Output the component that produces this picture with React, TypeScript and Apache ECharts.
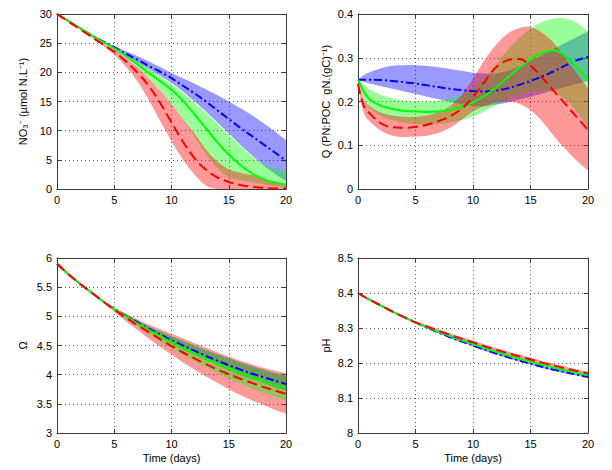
import React, { useEffect, useRef } from 'react';
import * as echarts from 'echarts';

// ---------------- data ----------------
const days = [0, 0.5, 1, 2, 3, 4, 5, 6, 7, 8, 9, 10, 11, 12, 13, 14, 15, 16, 17, 18, 19, 20];

const xTicks = [0, 5, 10, 15, 20];

// NO3
const no3BlueMean = [30, 29.4, 28.8, 27.6, 26.4, 25.3, 24.3, 23.2, 22.2, 21.1, 20.1, 19.0, 17.7, 16.4, 15.0, 13.5, 12.0, 10.5, 9.1, 7.7, 6.3, 4.8];
const no3BlueHi = [30, 29.4, 28.8, 27.6, 26.4, 25.4, 24.5, 23.6, 22.8, 21.9, 20.9, 19.9, 19.0, 18.1, 17.1, 16.1, 15.0, 13.9, 12.7, 11.3, 9.9, 8.4];
const no3BlueLo = [30, 29.4, 28.8, 27.6, 26.4, 25.2, 24.1, 22.9, 21.7, 20.6, 19.4, 18.2, 16.7, 15.0, 13.3, 11.4, 9.5, 7.6, 5.8, 4.1, 2.6, 1.4];
const no3GreenMean = [30, 29.4, 28.8, 27.6, 26.4, 25.2, 24.1, 22.8, 21.4, 19.9, 18.5, 17.0, 15.1, 12.8, 10.4, 8.0, 5.9, 4.1, 2.7, 1.7, 1.1, 0.7];
const no3GreenHi = [30, 29.4, 28.8, 27.6, 26.4, 25.2, 24.2, 23.0, 21.8, 20.6, 19.3, 18.0, 16.5, 14.8, 13.1, 11.2, 9.3, 7.4, 5.6, 4.3, 3.5, 3.0];
const no3GreenLo = [30, 29.4, 28.8, 27.6, 26.4, 25.2, 24.0, 22.6, 20.9, 19.0, 16.9, 14.6, 12.0, 9.0, 6.0, 3.6, 2.0, 1.5, 1.2, 0.8, 0.5, 0.3];
const no3RedMean = [30, 29.35, 28.7, 27.4, 26.1, 24.8, 23.5, 21.9, 20.0, 17.7, 14.8, 11.4, 8.1, 5.3, 3.3, 2.0, 1.2, 0.7, 0.4, 0.2, 0.1, 0.1];
const no3RedHi = [30, 29.4, 28.8, 27.5, 26.3, 25.0, 23.9, 22.5, 20.9, 19.0, 16.9, 14.6, 12.0, 9.5, 6.8, 4.7, 3.4, 2.8, 2.4, 1.8, 1.3, 0.9];
const no3RedLo = [30, 29.3, 28.6, 27.3, 26.0, 24.6, 23.0, 21.0, 18.5, 15.3, 11.7, 8.2, 5.0, 2.5, 0.6, 0, 0, 0, 0, 0, 0, 0];

// Q (PN:POC)
const qBlueMean = [0.25, 0.25, 0.25, 0.249, 0.247, 0.244, 0.241, 0.237, 0.233, 0.229, 0.226, 0.224, 0.223, 0.225, 0.23, 0.238, 0.247, 0.257, 0.269, 0.282, 0.294, 0.302];
const qBlueHi = [0.25, 0.26, 0.267, 0.276, 0.282, 0.283, 0.283, 0.281, 0.278, 0.274, 0.27, 0.266, 0.264, 0.264, 0.27, 0.28, 0.293, 0.306, 0.32, 0.334, 0.347, 0.36];
const qBlueLo = [0.25, 0.245, 0.241, 0.235, 0.229, 0.223, 0.217, 0.211, 0.205, 0.199, 0.194, 0.19, 0.189, 0.193, 0.198, 0.204, 0.211, 0.218, 0.226, 0.233, 0.24, 0.247];
const qGreenMean = [0.25, 0.222, 0.205, 0.19, 0.183, 0.179, 0.177, 0.176, 0.177, 0.181, 0.188, 0.198, 0.213, 0.232, 0.255, 0.277, 0.297, 0.311, 0.317, 0.304, 0.278, 0.25];
const qGreenHi = [0.25, 0.238, 0.228, 0.215, 0.207, 0.202, 0.2, 0.2, 0.202, 0.207, 0.215, 0.228, 0.255, 0.285, 0.318, 0.345, 0.367, 0.382, 0.389, 0.39, 0.38, 0.36];
const qGreenLo = [0.25, 0.205, 0.185, 0.167, 0.157, 0.151, 0.148, 0.147, 0.148, 0.152, 0.158, 0.166, 0.178, 0.192, 0.205, 0.215, 0.222, 0.225, 0.22, 0.205, 0.178, 0.14];
const qRedMean = [0.24, 0.19, 0.173, 0.15, 0.141, 0.14, 0.142, 0.147, 0.155, 0.166, 0.183, 0.21, 0.245, 0.278, 0.294, 0.297, 0.282, 0.255, 0.225, 0.195, 0.165, 0.135];
const qRedHi = [0.245, 0.205, 0.19, 0.175, 0.168, 0.165, 0.165, 0.168, 0.176, 0.19, 0.215, 0.252, 0.295, 0.33, 0.355, 0.368, 0.37, 0.358, 0.335, 0.3, 0.265, 0.23];
const qRedLo = [0.235, 0.175, 0.155, 0.133, 0.122, 0.119, 0.12, 0.122, 0.128, 0.14, 0.158, 0.178, 0.19, 0.198, 0.2, 0.195, 0.18, 0.155, 0.122, 0.092, 0.065, 0.042];

// Omega
const omBlueMean = [5.9, 5.81, 5.72, 5.56, 5.41, 5.26, 5.13, 5.01, 4.9, 4.79, 4.69, 4.59, 4.5, 4.41, 4.32, 4.24, 4.16, 4.09, 4.02, 3.96, 3.9, 3.84];
const omBlueHi = [5.9, 5.81, 5.72, 5.56, 5.41, 5.26, 5.14, 5.03, 4.93, 4.83, 4.74, 4.66, 4.58, 4.5, 4.42, 4.35, 4.28, 4.21, 4.15, 4.09, 4.03, 3.98];
const omBlueLo = [5.9, 5.81, 5.72, 5.56, 5.41, 5.26, 5.12, 4.99, 4.87, 4.75, 4.64, 4.53, 4.43, 4.34, 4.25, 4.16, 4.08, 4.0, 3.93, 3.86, 3.79, 3.73];
const omGreenMean = [5.9, 5.81, 5.72, 5.56, 5.41, 5.26, 5.12, 5.0, 4.88, 4.77, 4.66, 4.56, 4.46, 4.37, 4.28, 4.19, 4.11, 4.03, 3.96, 3.89, 3.83, 3.77];
const omGreenHi = [5.9, 5.81, 5.72, 5.56, 5.41, 5.26, 5.14, 5.03, 4.93, 4.83, 4.74, 4.66, 4.58, 4.5, 4.42, 4.35, 4.28, 4.21, 4.14, 4.08, 4.03, 3.99];
const omGreenLo = [5.9, 5.81, 5.72, 5.56, 5.41, 5.26, 5.1, 4.96, 4.83, 4.7, 4.57, 4.45, 4.34, 4.23, 4.13, 4.03, 3.94, 3.85, 3.77, 3.69, 3.62, 3.55];
const omRedMean = [5.9, 5.81, 5.72, 5.56, 5.41, 5.26, 5.11, 4.98, 4.85, 4.73, 4.61, 4.49, 4.38, 4.28, 4.18, 4.09, 4.01, 3.93, 3.86, 3.79, 3.73, 3.67];
const omRedHi = [5.9, 5.81, 5.72, 5.56, 5.41, 5.27, 5.15, 5.05, 4.95, 4.86, 4.78, 4.7, 4.62, 4.54, 4.46, 4.38, 4.31, 4.24, 4.18, 4.12, 4.07, 4.02];
const omRedLo = [5.9, 5.81, 5.72, 5.56, 5.41, 5.25, 5.08, 4.92, 4.77, 4.62, 4.48, 4.34, 4.21, 4.09, 3.97, 3.86, 3.75, 3.65, 3.56, 3.48, 3.4, 3.33];

// pH
const phBlueMean = [8.4, 8.39, 8.381, 8.364, 8.347, 8.331, 8.316, 8.301, 8.287, 8.274, 8.262, 8.25, 8.238, 8.227, 8.217, 8.207, 8.198, 8.189, 8.181, 8.174, 8.167, 8.16];
const phBlueHi = [8.4, 8.39, 8.381, 8.364, 8.348, 8.332, 8.318, 8.303, 8.289, 8.277, 8.265, 8.253, 8.241, 8.23, 8.22, 8.21, 8.201, 8.192, 8.184, 8.177, 8.17, 8.163];
const phBlueLo = [8.4, 8.39, 8.381, 8.364, 8.346, 8.33, 8.314, 8.299, 8.285, 8.271, 8.259, 8.247, 8.235, 8.224, 8.214, 8.204, 8.195, 8.186, 8.178, 8.171, 8.164, 8.157];
const phGreenMean = [8.4, 8.39, 8.381, 8.364, 8.347, 8.331, 8.316, 8.302, 8.289, 8.277, 8.265, 8.254, 8.243, 8.232, 8.222, 8.212, 8.203, 8.195, 8.187, 8.179, 8.172, 8.165];
const phGreenHi = [8.4, 8.39, 8.381, 8.364, 8.348, 8.332, 8.318, 8.305, 8.292, 8.28, 8.268, 8.257, 8.246, 8.235, 8.225, 8.215, 8.206, 8.198, 8.19, 8.182, 8.175, 8.168];
const phGreenLo = [8.4, 8.39, 8.381, 8.364, 8.346, 8.33, 8.314, 8.299, 8.286, 8.274, 8.262, 8.251, 8.24, 8.229, 8.219, 8.209, 8.2, 8.192, 8.184, 8.176, 8.169, 8.162];
const phRedMean = [8.4, 8.39, 8.381, 8.364, 8.347, 8.331, 8.316, 8.304, 8.292, 8.28, 8.269, 8.259, 8.248, 8.238, 8.228, 8.219, 8.21, 8.201, 8.193, 8.185, 8.177, 8.17];
const phRedHi = [8.4, 8.39, 8.381, 8.364, 8.348, 8.333, 8.319, 8.308, 8.296, 8.285, 8.274, 8.264, 8.253, 8.243, 8.233, 8.224, 8.215, 8.206, 8.198, 8.19, 8.182, 8.175];
const phRedLo = [8.4, 8.39, 8.381, 8.364, 8.346, 8.329, 8.313, 8.3, 8.288, 8.276, 8.265, 8.254, 8.243, 8.233, 8.223, 8.214, 8.205, 8.196, 8.188, 8.18, 8.172, 8.165];

const yRanges = [
  { min: 0, max: 30, interval: 5 },
  { min: 0, max: 0.4, interval: 0.1 },
  { min: 3, max: 6, interval: 0.5 },
  { min: 8, max: 8.5, interval: 0.1 },
];
const yNames = ['NO₃⁻ (µmol N.L⁻¹)', 'Q (PN:POC  gN.(gC)⁻¹)', 'Ω', 'pH'];
const xName = 'Time (days)';

const panels = [
  { blue: [no3BlueMean, no3BlueLo, no3BlueHi], green: [no3GreenMean, no3GreenLo, no3GreenHi], red: [no3RedMean, no3RedLo, no3RedHi] },
  { blue: [qBlueMean, qBlueLo, qBlueHi], green: [qGreenMean, qGreenLo, qGreenHi], red: [qRedMean, qRedLo, qRedHi] },
  { blue: [omBlueMean, omBlueLo, omBlueHi], green: [omGreenMean, omGreenLo, omGreenHi], red: [omRedMean, omRedLo, omRedHi] },
  { blue: [phBlueMean, phBlueLo, phBlueHi], green: [phGreenMean, phGreenLo, phGreenHi], red: [phRedMean, phRedLo, phRedHi] },
];
// order in which the translucent bands are painted, per panel
const bandOrder = [
  ['blue', 'green', 'red'],
  ['blue', 'green', 'red'],
  ['blue', 'red', 'green'],
  ['blue', 'green', 'red'],
];

// ---------------- styling ----------------
const FONT = '"Liberation Sans", Arial, Helvetica, sans-serif';
const AX = '#3a3a3a';
const grids = [
  { left: 57, top: 14, width: 229, height: 175 },
  { left: 358, top: 14, width: 230, height: 175 },
  { left: 57, top: 258, width: 229, height: 175 },
  { left: 358, top: 258, width: 230, height: 175 },
];
const nameGaps = [29, 27, 29, 27];

const LINE: any = {
  blue: { color: '#0000ff', type: [8, 3, 2, 3] },
  green: { color: '#00ff00', type: 'solid' },
  red: { color: '#ff0000', type: [10, 5] },
};
const BAND: any = {
  blue: 'rgba(0,0,255,0.4)',
  green: 'rgba(0,255,0,0.4)',
  red: 'rgba(255,0,0,0.4)',
};

function fmt(p: number[]) {
  return p[0].toFixed(2) + ',' + p[1].toFixed(2);
}
function smoothSeg(pts: number[][]) {
  let s = '';
  const t = 1 / 6;
  for (let i = 0; i < pts.length - 1; i++) {
    const p0 = pts[i - 1] || pts[i];
    const p1 = pts[i];
    const p2 = pts[i + 1];
    const p3 = pts[i + 2] || p2;
    const c1 = [p1[0] + (p2[0] - p0[0]) * t, p1[1] + (p2[1] - p0[1]) * t];
    const c2 = [p2[0] - (p3[0] - p1[0]) * t, p2[1] - (p3[1] - p1[1]) * t];
    s += ' C' + fmt(c1) + ' ' + fmt(c2) + ' ' + fmt(p2);
  }
  return s;
}

function bandSeries(gi: number, lo: number[], hi: number[], color: string) {
  return {
    type: 'custom',
    xAxisIndex: gi * 2,
    yAxisIndex: gi * 2,
    clip: true,
    silent: true,
    encode: { x: 0, y: [1, 2] },
    data: days.map((d, i) => [d, lo[i], hi[i]]),
    renderItem: (params: any, api: any) => {
      if (params.dataIndexInside !== 0) return null;
      const n = params.dataInsideLength;
      const up: number[][] = [];
      const dn: number[][] = [];
      for (let i = 0; i < n; i++) {
        up.push(api.coord([api.value(0, i), api.value(2, i)]));
        dn.push(api.coord([api.value(0, i), api.value(1, i)]));
      }
      const rdn = dn.slice().reverse();
      const d = 'M' + fmt(up[0]) + smoothSeg(up) + ' L' + fmt(rdn[0]) + smoothSeg(rdn) + ' Z';
      return { type: 'path', shape: { pathData: d }, style: { fill: color, stroke: 'none' } };
    },
  };
}

function lineSeries(gi: number, mean: number[], st: any) {
  return {
    type: 'line',
    xAxisIndex: gi * 2,
    yAxisIndex: gi * 2,
    data: days.map((d, i) => [d, mean[i]]),
    symbol: 'none',
    smooth: 0.35,
    silent: true,
    lineStyle: { color: st.color, width: 2, type: st.type },
  };
}

function buildOption() {
  const xAxis: any[] = [];
  const yAxis: any[] = [];
  const series: any[] = [];
  grids.forEach((g, gi) => {
    const common = {
      type: 'value',
      gridIndex: gi,
      axisLine: { show: true, onZero: false, lineStyle: { color: AX, width: 1 } },
      axisTick: { show: true, inside: true, length: 4, lineStyle: { color: AX } },
    };
    xAxis.push({
      ...common,
      position: 'bottom',
      min: xTicks[0],
      max: xTicks[xTicks.length - 1],
      interval: 5,
      axisLabel: { color: '#000', fontSize: 11, fontFamily: FONT, margin: 5 },
      splitLine: { show: true, lineStyle: { color: '#555', type: [1, 3], width: 1 } },
      name: gi >= 2 ? xName : '',
      nameLocation: 'middle',
      nameGap: 19,
      nameTextStyle: { color: '#000', fontSize: 11, fontFamily: FONT },
    });
    xAxis.push({
      ...common,
      position: 'top',
      min: xTicks[0],
      max: xTicks[xTicks.length - 1],
      interval: 5,
      axisLabel: { show: false },
      splitLine: { show: false },
    });
    const r = yRanges[gi];
    yAxis.push({
      ...common,
      position: 'left',
      min: r.min,
      max: r.max,
      interval: r.interval,
      axisLabel: { color: '#000', fontSize: 11, fontFamily: FONT, margin: 5 },
      splitLine: { show: true, lineStyle: { color: '#555', type: [1, 3], width: 1 } },
      name: yNames[gi],
      nameLocation: 'middle',
      nameRotate: 90,
      nameGap: nameGaps[gi],
      nameTextStyle: { color: '#000', fontSize: 11, fontFamily: FONT },
    });
    yAxis.push({
      ...common,
      position: 'right',
      min: r.min,
      max: r.max,
      interval: r.interval,
      axisLabel: { show: false },
      splitLine: { show: false },
    });
    const p: any = panels[gi];
    bandOrder[gi].forEach((k) => series.push(bandSeries(gi, p[k][1], p[k][2], BAND[k])));
    ['blue', 'green', 'red'].forEach((k) => series.push(lineSeries(gi, p[k][0], LINE[k])));
  });
  return {
    animation: false,
    backgroundColor: '#ffffff',
    textStyle: { fontFamily: FONT },
    grid: grids,
    xAxis,
    yAxis,
    series,
  };
}

export default function App() {
  const ref = useRef<HTMLDivElement>(null);
  useEffect(() => {
    if (!ref.current) return;
    const chart = echarts.init(ref.current, null, { renderer: 'svg' });
    chart.setOption(buildOption() as any);
    return () => chart.dispose();
  }, []);
  return (
    <div
      ref={ref}
      style={{ position: 'fixed', left: 0, top: 0, width: 612, height: 470, background: '#fff' }}
    />
  );
}
